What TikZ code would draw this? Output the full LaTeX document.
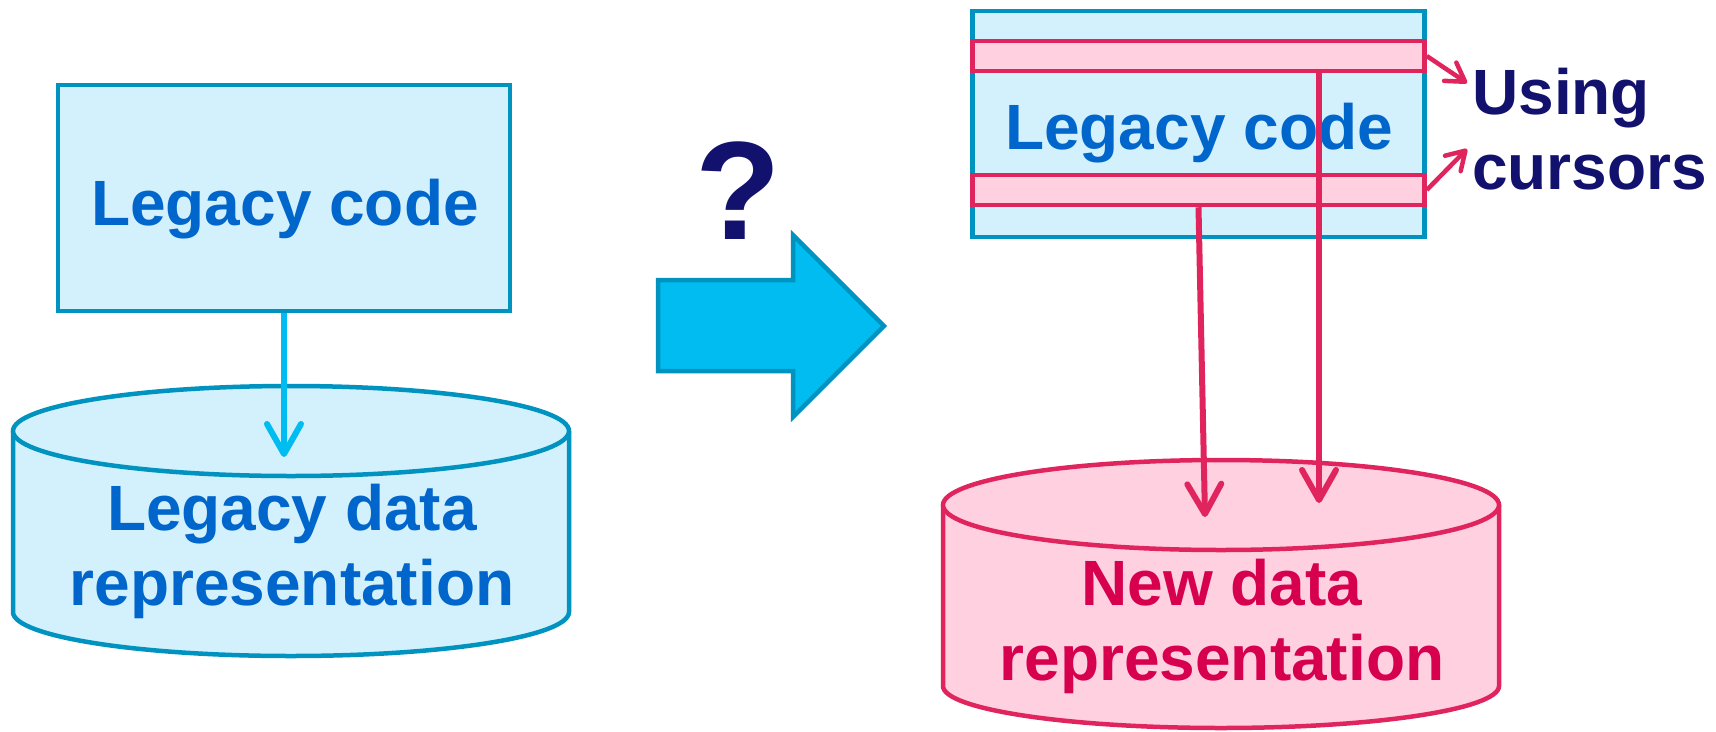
\documentclass[tikz,border=0pt]{standalone}
\usepackage{fontspec}
\setmainfont{Liberation Sans}
\usetikzlibrary{arrows.meta}

\definecolor{boxfill}{HTML}{D3F1FD}
\definecolor{boxline}{HTML}{0093C0}
\definecolor{labelblue}{HTML}{0066CC}
\definecolor{flowcyan}{HTML}{00BCF1}
\definecolor{pinkfill}{HTML}{FFD0E0}
\definecolor{pinkline}{HTML}{E0255E}
\definecolor{pinktext}{HTML}{D6004E}
\definecolor{navy}{HTML}{12116E}

\begin{document}
\begin{tikzpicture}[x=1pt,y=-1pt,
  codebox/.style={draw=boxline, fill=boxfill, line width=4.5pt, inner sep=0pt,
    minimum width=452pt, minimum height=226pt},
  cursorbar/.style={draw=pinkline, fill=pinkfill, line width=4.5pt, inner sep=0pt,
    minimum width=452pt, minimum height=30pt},
  bigtext/.style={font=\fontsize{64}{75}\selectfont\bfseries, inner sep=0pt, align=center},
  bluecyl/.style={draw=boxline, fill=boxfill, line width=4.5pt},
  pinkcyl/.style={draw=pinkline, fill=pinkfill, line width=4.5pt},
  flowblue/.style={draw=flowcyan, line width=6pt, -{Straight Barb[length=30pt,width=34pt,round]}},
  flowpink/.style={draw=pinkline, line width=6pt, -{Straight Barb[length=30pt,width=34pt,round]}},
  cursorarrow/.style={draw=pinkline, line width=4.5pt, -{Straight Barb[length=18pt,width=22pt,round]}}
]
\useasboundingbox (0,0) rectangle (1716,731);

% ---- left: legacy code over legacy data ----
\node[codebox] (lbox) at (284,198) {};
\node[bigtext, text=labelblue, anchor=base] (lboxtext) at (285,225) {Legacy code};

% legacy data cylinder
\filldraw[bluecyl] (13,431) -- (13,612)
  arc[start angle=180, end angle=360, x radius=278pt, y radius=44pt] -- (569,431);
\filldraw[bluecyl] (291,431) ellipse[x radius=278pt, y radius=45pt];
\node[bigtext, text=labelblue] (ldata) at (292,551) {Legacy data\\representation};

\coordinate (ltip) at (284,457);
\draw[flowblue] (lbox.south) -- (ltip);

% ---- middle: transformation arrow ----
\filldraw[draw=boxline, fill=flowcyan, line width=4.5pt]
  (658,280) -- (793,280) -- (793,235) -- (884,326) -- (793,417) -- (793,371) -- (658,371) -- cycle;
\node[font=\fontsize{140}{150}\selectfont\bfseries, text=navy, inner sep=0pt, anchor=base]
  (qmark) at (738,239) {?};

% ---- right: legacy code with cursors over new data ----
\node[codebox, minimum height=226pt] (rbox) at (1198.5,124) {};
\node[bigtext, text=labelblue, anchor=base] (rboxtext) at (1199,149) {Legacy code};
\node[cursorbar] (bar1) at (1198.5,56) {};
\node[cursorbar] (bar2) at (1198.5,190) {};

% new data cylinder
\filldraw[pinkcyl] (943,505) -- (943,686)
  arc[start angle=180, end angle=360, x radius=278pt, y radius=42pt] -- (1499,505);
\filldraw[pinkcyl] (1221,505) ellipse[x radius=278pt, y radius=45pt];
\node[bigtext, text=pinktext] (rdata) at (1222,626) {New data\\representation};

% cursor reads and writes
\coordinate (tipA) at (1205,517);
\coordinate (tipB) at (1319,503);
\draw[flowpink] (bar2.south) -- (tipA);
\draw[flowpink] (bar1.south -| tipB) -- (tipB);

% cursor label
\node[bigtext, text=navy, align=left, anchor=west] (cursors) at (1472,129) {Using\\cursors};
\coordinate (ctip1) at (1467,83);
\coordinate (ctip2) at (1467,149);
\draw[cursorarrow] (bar1.east) -- (ctip1);
\draw[cursorarrow] (bar2.east) -- (ctip2);
\end{tikzpicture}
\end{document}
